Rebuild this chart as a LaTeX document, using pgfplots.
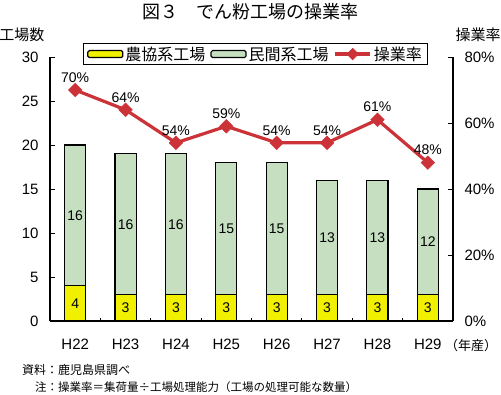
\documentclass[border=0pt]{standalone}
\usepackage{pgfplots}
\pgfplotsset{compat=1.18}
\usepackage{fontspec}
\setmainfont{Liberation Sans}
\newfontfamily\cjk{Noto Sans CJK JP}
\definecolor{ja}{HTML}{F0F000}
\definecolor{mi}{HTML}{C5DFC0}
\definecolor{rr}{HTML}{CC3338}
\begin{document}
\begin{tikzpicture}
\path[use as bounding box] (-50bp,-74bp) rectangle (451bp,321bp);
\pgfplotsset{base/.style={scale only axis, width=403bp, height=264bp,
  xmin=-0.5, xmax=7.5, at={(0,0)}, anchor=south west, clip=false,
  /pgf/number format/assume math mode=true,
  tick align=inside, major tick length=5bp, minor tick length=3bp,
  every tick/.style={black, line width=0.8bp},
  axis line style={line width=1.3bp},
  tick label style={font=\fontsize{15bp}{15bp}\selectfont}}}
% bars
\begin{axis}[base, ymin=0, ymax=30, ybar stacked, bar width=0.42,
  axis y line*=left, axis x line*=bottom,
  ytick={0,5,...,30},
  yticklabel style={xshift=-8bp},
  xtick={0,...,7}, xticklabels={H22,H23,H24,H25,H26,H27,H28,H29},
  major x tick style={draw=none},
  minor xtick={0.5,1.5,...,6.5},
  xticklabel style={yshift=-15bp},
  legend style={at={(0.51,1.011)}, anchor=center, legend columns=-1,
    draw=black, line width=0.7bp, inner xsep=4bp, inner ysep=1bp,
    font=\cjk\fontsize{16bp}{16bp}\selectfont,
    /tikz/every even column/.append style={column sep=3bp}},
  legend image code/.code={\draw[#1, line width=1.2bp, rounded corners=1.5bp] (0bp,-3.5bp) rectangle (35bp,3.5bp);}
  ]
\addplot[fill=ja, draw=black, line width=1.2bp] coordinates {(0,4)(1,3)(2,3)(3,3)(4,3)(5,3)(6,3)(7,3)};
\addlegendentry{農協系工場}
\addplot[fill=mi, draw=black, line width=1.2bp] coordinates {(0,16)(1,16)(2,16)(3,15)(4,15)(5,13)(6,13)(7,12)};
\addlegendentry{民間系工場}
\addlegendimage{legend image code/.code={\draw[rr, line width=3.2bp] (0bp,0bp) -- (35bp,0bp); \draw[rr, fill=rr] plot[mark=square*, mark size=4bp, mark options={rotate=45}] coordinates {(17.5bp,0bp)};}}
\addlegendentry{操業率}
\end{axis}
% bar labels
\begin{axis}[base, ymin=0, ymax=30, hide axis]
\addplot[draw=none, nodes near coords, point meta=explicit symbolic,
  nodes near coords align={center},
  every node near coord/.append style={font=\fontsize{14bp}{14bp}\selectfont, black}]
  coordinates {(0,2)[4] (1,1.5)[3] (2,1.5)[3] (3,1.5)[3] (4,1.5)[3] (5,1.5)[3] (6,1.5)[3] (7,1.5)[3]
  (0,12)[16] (1,11)[16] (2,11)[16] (3,10.5)[15] (4,10.5)[15] (5,9.5)[13] (6,9.5)[13] (7,9)[12]};
\end{axis}
% line
\begin{axis}[base, ymin=0, ymax=80, axis y line*=right, axis x line=none,
  ytick={0,20,...,80}, yticklabel={\pgfmathprintnumber{\tick}\%},
  yticklabel style={xshift=8bp}]
\addplot[rr, line width=3.2bp, mark=square*, mark size=4.8bp, mark options={rotate=45, fill=rr, line width=0.5bp},
  nodes near coords={\pgfmathprintnumber{\pgfplotspointmeta}\%},
  every node near coord/.append style={font=\fontsize{14bp}{14bp}\selectfont, black, yshift=4bp}]
  coordinates {(0,70)(1,64)(2,54)(3,59)(4,54)(5,54)(6,61)(7,48)};
\end{axis}
\node[font=\cjk\fontsize{18bp}{18bp}\selectfont] at (200bp,309bp) {図３　でん粉工場の操業率};
\node[font=\cjk\fontsize{15bp}{15bp}\selectfont] at (-28bp,286bp) {工場数};
\node[font=\cjk\fontsize{15bp}{15bp}\selectfont] at (428bp,286bp) {操業率};
\node[font=\cjk\fontsize{13bp}{13bp}\selectfont] at (421bp,-25bp) {（年産）};
\node[font=\cjk\fontsize{12bp}{12bp}\selectfont, anchor=west, inner sep=0pt] at (-28bp,-49bp) {資料：鹿児島県調べ};
\node[font=\cjk\fontsize{11.5bp}{11.5bp}\selectfont, anchor=west, inner sep=0pt] at (-15bp,-66bp) {注：操業率＝集荷量÷工場処理能力（工場の処理可能な数量）};
\end{tikzpicture}
\end{document}
